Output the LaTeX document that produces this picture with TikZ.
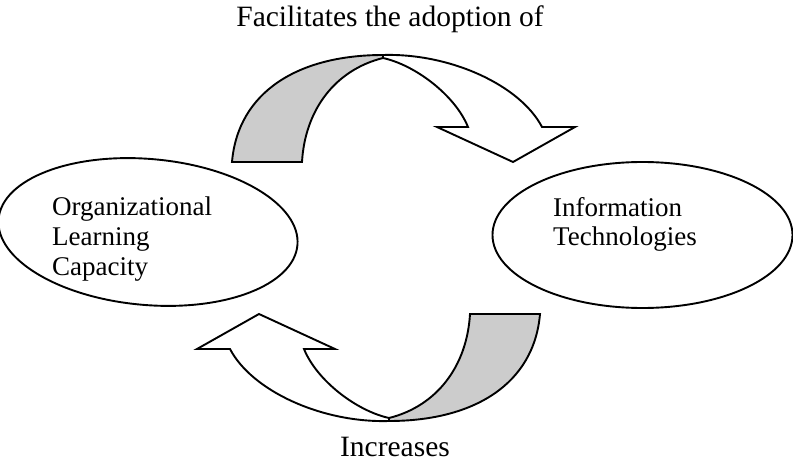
\documentclass[tikz,border=0pt]{standalone}
\usepackage{fontspec}
\setmainfont{Liberation Serif}
\usetikzlibrary{shapes.geometric}
\tikzset{
  oval/.style={draw, ellipse, line width=1.9pt, inner sep=0pt, minimum width=300pt, minimum height=146pt},
  band/.style={draw, line width=1.9pt, line join=miter, fill=white},
  backband/.style={draw, line width=1.9pt, line join=miter, fill=black!20},
  lbl/.style={font=\fontsize{29.5}{34}\selectfont, inner sep=0pt, anchor=base},
  inlbl/.style={font=\fontsize{27}{30}\selectfont, inner sep=0pt, anchor=base west},
  ribbonarrow/.pic={
    \draw[band] (383,55) .. controls (450,53) and (520,85) .. (542,127)
      -- (575,127) -- (513,162) -- (437,127) -- (468,127)
      .. controls (455,95) and (415,65) .. (383,58) -- cycle;
    \draw[backband] (232,162) .. controls (238,92) and (298,55) .. (383,55)
      -- (383,58) .. controls (335,70) and (305,110) .. (302,162) -- cycle;
  }
}
\begin{document}
\begin{tikzpicture}[x=1pt,y=-1pt]
\useasboundingbox (0,0) rectangle (793,468);
% ellipses
\node[oval, rotate=-5] (olc) at (148,232) {};
\node[oval] (it) at (642.5,235) {};
% ellipse texts
\node[inlbl] (olc1) at (52,215.7) {Organizational};
\node[inlbl] (olc2) at (52,245.7) {Learning};
\node[inlbl] (olc3) at (52,275.5) {Capacity};
\node[inlbl] (it1) at (553,216) {Information};
\node[inlbl] (it2) at (553,245.5) {Technologies};
% ribbon arrows
\pic at (0,0) {ribbonarrow};
\pic[rotate=180] at (772,476) {ribbonarrow};
% labels
\node[lbl] (top) at (390,26.7) {Facilitates the adoption of};
\node[lbl] (bot) at (395,456.7) {Increases};
\end{tikzpicture}
\end{document}
